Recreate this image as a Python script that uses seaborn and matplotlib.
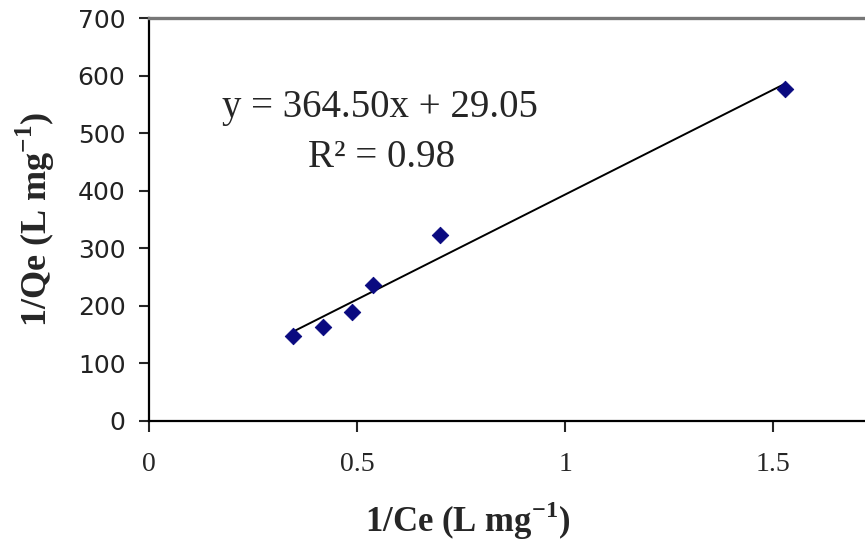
import numpy as np
import pandas as pd
import matplotlib
matplotlib.use("Agg")
import matplotlib.pyplot as plt
import seaborn as sns

# =====================================
# DATA
# =====================================

inv_ce = [0.346, 0.418, 0.488, 0.538, 0.700, 1.529]
inv_qe = [147, 163, 189, 236, 323, 577]

slope = 364.50
intercept = 29.05
r2 = 0.98

x_ticks = [0, 0.5, 1, 1.5]
x_tick_labels = ["0", "0.5", "1", "1.5"]
y_ticks = [0, 100, 200, 300, 400, 500, 600, 700]

df = pd.DataFrame({"inv_ce": inv_ce, "inv_qe": inv_qe})

# =====================================
# FIGURE
# =====================================

sns.set_style("white")
plt.rcParams["mathtext.fontset"] = "custom"
plt.rcParams["mathtext.rm"] = "Liberation Serif"
plt.rcParams["mathtext.bf"] = "Liberation Serif:bold"

fig = plt.figure(figsize=(8.65, 5.48), dpi=100)
ax = fig.add_axes([0.1723, 0.2318, 0.8277, 0.7352])

# trend line
x_fit = np.array([min(inv_ce), max(inv_ce)])
y_fit = slope * x_fit + intercept
sns.lineplot(x=x_fit, y=y_fit, color="black", linewidth=1.4, ax=ax)

sns.scatterplot(
    data=df,
    x="inv_ce",
    y="inv_qe",
    marker="D",
    s=70,
    color="#0a0a80",
    edgecolor="#0a0a80",
    zorder=3,
    ax=ax
)

ax.set_xlim(0, 1.72)
ax.set_ylim(0, 700)

ax.set_xticks(x_ticks)
ax.set_xticklabels(x_tick_labels, family="Liberation Serif", fontsize=20)
ax.set_yticks(y_ticks)
ax.set_yticklabels([str(v) for v in y_ticks], family="DejaVu Sans",
                   fontsize=18, color="#222222")

ax.tick_params(axis="x", direction="out", length=8, width=1.5,
               pad=14, bottom=True)
ax.tick_params(axis="y", direction="out", length=7, width=1.5,
               pad=10, left=True)

for side in ["left", "bottom"]:
    ax.spines[side].set_color("black")
    ax.spines[side].set_linewidth(1.6)
ax.spines["top"].set_color("#777777")
ax.spines["top"].set_linewidth(2.4)
ax.spines["right"].set_visible(False)

ax.set_xlabel("1/Ce (L mg$^{\\mathbf{-1}}$)", family="Liberation Serif",
              fontsize=25, fontweight="bold")
ax.set_ylabel("1/Qe (L mg$^{\\mathbf{-1}}$)", family="Liberation Serif",
              fontsize=26, fontweight="bold")
ax.xaxis.set_label_coords(0.4455, -0.195)
ax.yaxis.set_label_coords(-0.128, 0.5)

ax.text(0.3226, 0.779, "y = 364.50x + 29.05", transform=ax.transAxes,
        ha="center", va="center", family="Liberation Serif", fontsize=28)
ax.text(0.325, 0.653, "R² = 0.98", transform=ax.transAxes,
        ha="center", va="center", family="Liberation Serif", fontsize=28)

plt.savefig("out.png", dpi=100)
